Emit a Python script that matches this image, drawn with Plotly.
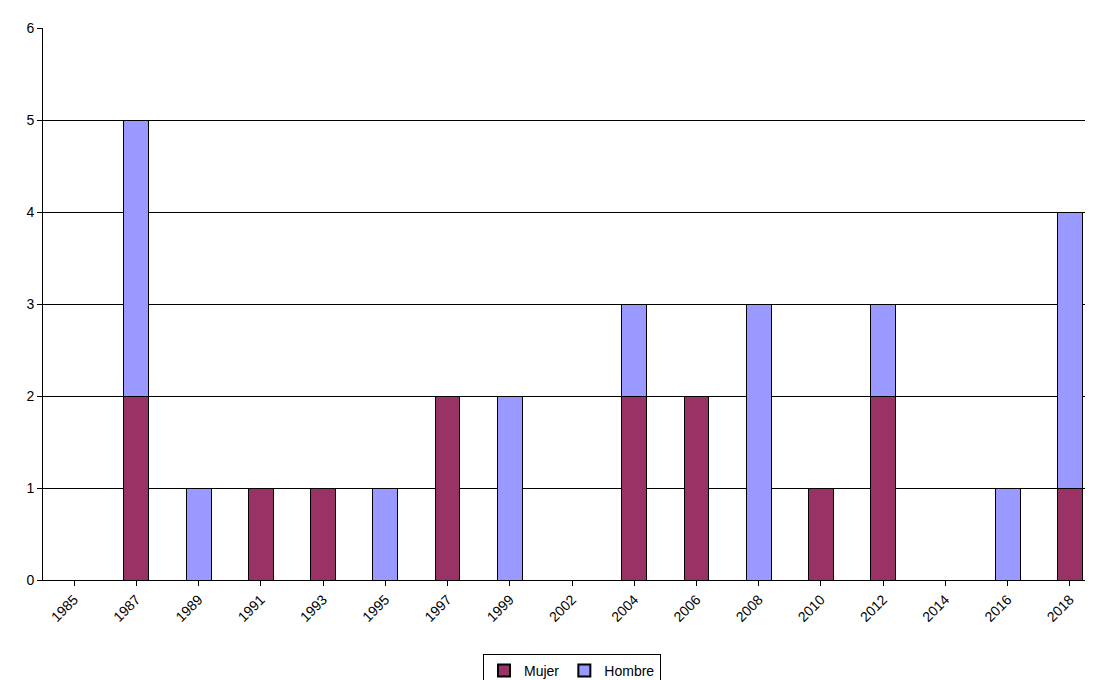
import plotly.graph_objects as go

years = ["1985","1987","1989","1991","1993","1995","1997","1999","2002","2004","2006","2008","2010","2012","2014","2016","2018"]
mujer = [0,2,0,1,1,0,2,0,0,2,2,0,1,2,0,0,1]
hombre = [0,3,1,0,0,1,0,2,0,1,0,3,0,1,0,1,3]

fig = go.Figure()
fig.add_bar(x=years, y=mujer, name="Mujer", marker=dict(color="#993366", line=dict(color="black", width=1)))
fig.add_bar(x=years, y=hombre, name="Hombre", marker=dict(color="#9999FF", line=dict(color="black", width=1)))
fig.update_layout(
    barmode="stack", bargap=0.6, width=1093, height=680,
    plot_bgcolor="white", paper_bgcolor="white",
    margin=dict(l=35, r=0, t=20, b=98),
    font=dict(family="Liberation Sans, Arial", size=14, color="black"),
    legend=dict(orientation="h", x=0.5, xanchor="center", y=-0.135, yanchor="top",
                bordercolor="black", borderwidth=1, font=dict(size=14),
                traceorder="normal", itemwidth=30, tracegroupgap=0,
                itemsizing="constant"),
    xaxis=dict(type="category", tickangle=-45, showline=True, linecolor="black",
               ticks="outside", ticklen=5, tickcolor="black"),
    yaxis=dict(range=[0,6], dtick=1, showgrid=True, gridcolor="black", gridwidth=1,
               showline=True, linecolor="black", ticks="outside", ticklen=5, tickcolor="black",
               zeroline=False),
)
fig.write_html("out.html")
